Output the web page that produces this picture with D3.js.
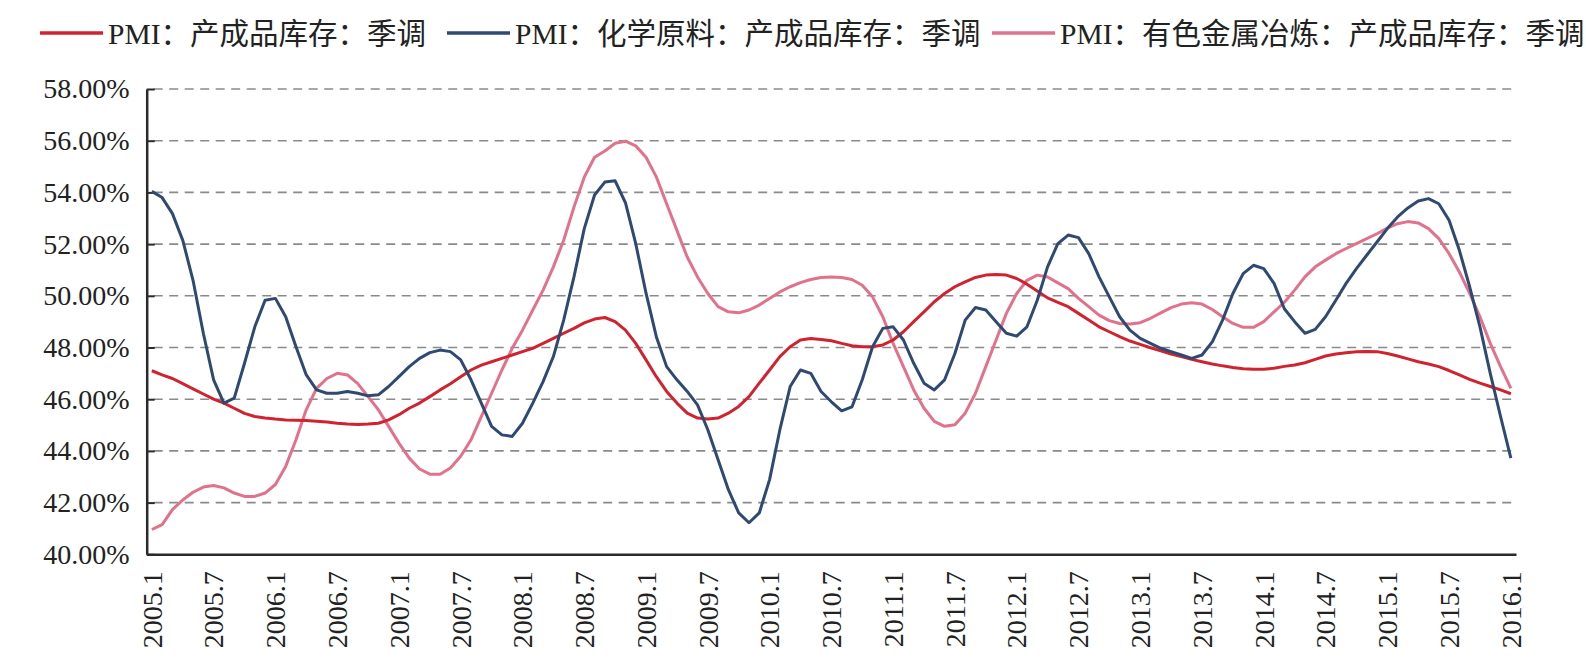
<!DOCTYPE html>
<html>
<head>
<meta charset="utf-8">
<script src="https://cdn.jsdelivr.net/npm/d3@7"></script>
<style>
  body { margin: 0; background: #fff; }
</style>
</head>
<body>
<div id="chart"></div>
<script>
// monthly categories 2005.1 .. 2016.1
const months = [];
for (let yr = 2005; yr <= 2016; yr++) {
    for (let m = 1; m <= 12; m++) {
        if (yr === 2016 && m > 1) break;
        months.push(yr + "." + m);
    }
}

const tickLabels = ["2005.1", "2005.7", "2006.1", "2006.7", "2007.1", "2007.7", "2008.1", "2008.7",
    "2009.1", "2009.7", "2010.1", "2010.7", "2011.1", "2011.7", "2012.1", "2012.7",
    "2013.1", "2013.7", "2014.1", "2014.7", "2015.1", "2015.7", "2016.1"];

const yTicks = [40, 42, 44, 46, 48, 50, 52, 54, 56, 58];

const seriesNames = ["PMI：产成品库存：季调", "PMI：化学原料：产成品库存：季调", "PMI：有色金属冶炼：产成品库存：季调"];

// PMI: 产成品库存 (seasonally adjusted), %
const pmiStock = [
    47.1, 46.94, 46.8, 46.6, 46.4, 46.2, 46.0, 45.85, 45.65, 45.45, 45.33, 45.27,
    45.23, 45.2, 45.19, 45.18, 45.15, 45.12, 45.07, 45.04, 45.02, 45.04, 45.07, 45.2,
    45.4, 45.65, 45.85, 46.1, 46.36, 46.6, 46.87, 47.13, 47.32, 47.45, 47.58, 47.71,
    47.84, 47.97, 48.16, 48.35, 48.55, 48.74, 48.95, 49.1, 49.16, 49.0, 48.67, 48.16,
    47.52, 46.87, 46.3, 45.85, 45.46, 45.27, 45.23, 45.27, 45.46, 45.72, 46.1, 46.62,
    47.13, 47.65, 48.03, 48.29, 48.35, 48.31, 48.26, 48.16, 48.07, 48.03, 48.03, 48.1,
    48.29, 48.61, 49.0, 49.38, 49.77, 50.09, 50.35, 50.54, 50.71, 50.8, 50.82, 50.8,
    50.67, 50.45, 50.19, 49.92, 49.75, 49.58, 49.32, 49.06, 48.8, 48.61, 48.42, 48.25,
    48.12, 47.99, 47.87, 47.75, 47.65, 47.54, 47.45, 47.36, 47.29, 47.23, 47.18, 47.16,
    47.16, 47.2, 47.27, 47.32, 47.41, 47.54, 47.67, 47.75, 47.8, 47.84, 47.85, 47.84,
    47.77, 47.67, 47.56, 47.45, 47.36, 47.26, 47.11, 46.94, 46.77, 46.62, 46.49, 46.36,
    46.21
];

// PMI: 化学原料: 产成品库存 (seasonally adjusted), %
const pmiChem = [
    54.04, 53.8, 53.18, 52.15, 50.6, 48.55, 46.75, 45.85, 46.04, 47.39, 48.8, 49.83,
    49.9, 49.19, 48.03, 46.94, 46.36, 46.23, 46.23, 46.3, 46.23, 46.13, 46.17, 46.49,
    46.87, 47.26, 47.58, 47.8, 47.9, 47.84, 47.52, 46.75, 45.85, 44.95, 44.62, 44.56,
    45.07, 45.85, 46.68, 47.65, 49.06, 50.73, 52.6, 53.9, 54.4, 54.45, 53.6, 52.02,
    50.1, 48.42, 47.26, 46.75, 46.3, 45.78, 44.82, 43.66, 42.5, 41.6, 41.22, 41.6,
    42.89, 44.82, 46.49, 47.13, 47.0, 46.3, 45.9, 45.55, 45.7, 46.75, 48.03, 48.74,
    48.8, 48.29, 47.39, 46.62, 46.36, 46.75, 47.77, 49.06, 49.55, 49.45, 49.0, 48.55,
    48.44, 48.8, 49.83, 51.12, 52.02, 52.35, 52.25, 51.63, 50.73, 49.96, 49.19, 48.67,
    48.35, 48.16, 47.97, 47.84, 47.71, 47.58, 47.71, 48.22, 49.06, 50.09, 50.86, 51.18,
    51.05, 50.48, 49.5, 49.0, 48.55, 48.7, 49.19, 49.83, 50.48, 51.05, 51.57, 52.08,
    52.6, 53.05, 53.4, 53.67, 53.76, 53.56, 52.92, 51.76, 50.35, 48.8, 47.0, 45.33,
    43.72
];

// PMI: 有色金属冶炼: 产成品库存 (seasonally adjusted), %
const pmiMetal = [
    40.96, 41.15, 41.73, 42.1, 42.4, 42.6, 42.66, 42.57, 42.37, 42.24, 42.24, 42.37,
    42.7, 43.4, 44.43, 45.6, 46.42, 46.8, 47.0, 46.94, 46.6, 46.1, 45.59, 44.95,
    44.3, 43.72, 43.3, 43.1, 43.1, 43.34, 43.79, 44.43, 45.33, 46.23, 47.13, 47.97,
    48.67, 49.45, 50.22, 51.12, 52.15, 53.43, 54.59, 55.36, 55.6, 55.9, 55.98, 55.8,
    55.36, 54.6, 53.56, 52.53, 51.5, 50.73, 50.09, 49.58, 49.38, 49.34, 49.45, 49.64,
    49.9, 50.15, 50.35, 50.51, 50.63, 50.71, 50.73, 50.71, 50.63, 50.41, 49.96, 49.19,
    48.16, 47.26, 46.36, 45.65, 45.14, 44.95, 45.01, 45.46, 46.23, 47.26, 48.29, 49.32,
    50.09, 50.6, 50.8, 50.73, 50.5, 50.28, 49.9, 49.58, 49.25, 49.04, 48.93, 48.91,
    48.96, 49.13, 49.34, 49.54, 49.68, 49.73, 49.68, 49.47, 49.19, 48.93, 48.78, 48.78,
    49.0, 49.38, 49.75, 50.22, 50.73, 51.12, 51.38, 51.63, 51.83, 52.02, 52.21, 52.4,
    52.62, 52.79, 52.87, 52.82, 52.6, 52.21, 51.63, 50.92, 50.09, 49.19, 48.16, 47.26,
    46.42
];

const seriesColors = ["#d0232f", "#2f4a72", "#e2718b"];

function chart(container) {
    const width = 1586;
    const height = 666;
    const plotLeft = 146.7;
    const plotRight = 1516;
    const plotTop = 89;
    const plotBottom = 554.3;

    const x = d3.scaleBand()
        .domain(months)
        .range([plotLeft, plotRight])
        .padding(0);
    const cx = d => x(d) + x.bandwidth() / 2;

    const y = d3.scaleLinear()
        .domain([40, 58])
        .range([plotBottom, plotTop]);

    const svg = d3.select(container).append("svg")
        .attr("width", width)
        .attr("height", height)
        .attr("viewBox", [0, 0, width, height])
        .style("font-family", "'Liberation Serif', 'Noto Sans CJK SC', serif");

    svg.append("rect").attr("width", width).attr("height", height).attr("fill", "#fff");

    // dashed gridlines
    svg.append("g")
        .selectAll("line")
        .data(yTicks.slice(1))
        .join("line")
            .attr("x1", plotLeft + 7)
            .attr("x2", plotRight)
            .attr("y1", d => y(d))
            .attr("y2", d => y(d))
            .attr("stroke", "#8a8a8a")
            .attr("stroke-width", 1.6)
            .attr("stroke-dasharray", "9,6.5");

    // y axis
    svg.append("g")
        .attr("transform", `translate(${plotLeft},0)`)
        .call(d3.axisLeft(y)
            .tickValues(yTicks)
            .tickFormat(d => d.toFixed(2) + "%")
            .tickSizeInner(-8)
            .tickSizeOuter(0)
            .tickPadding(17))
        .call(g => g.select(".domain").attr("stroke", "#2a2a2a").attr("stroke-width", 2.5))
        .call(g => g.selectAll(".tick line").attr("stroke", "#2a2a2a").attr("stroke-width", 2))
        .call(g => g.selectAll("text")
            .attr("font-family", "'Liberation Serif', serif")
            .attr("font-size", 28)
            .attr("fill", "#222"));

    // x axis
    svg.append("g")
        .attr("transform", `translate(0,${plotBottom})`)
        .call(d3.axisBottom(x)
            .tickValues(tickLabels)
            .tickSize(0))
        .call(g => g.select(".domain").attr("stroke", "#2a2a2a").attr("stroke-width", 2.5))
        .call(g => g.selectAll("text")
            .attr("font-family", "'Liberation Serif', serif")
            .attr("font-size", 28)
            .attr("fill", "#222")
            .attr("text-anchor", "end")
            .attr("x", -17)
            .attr("y", 0)
            .attr("dy", "0.35em")
            .attr("transform", "rotate(-90)"));

    // series lines
    const line = d3.line()
        .x((d, i) => cx(months[i]))
        .y(d => y(d));

    const allSeries = [pmiStock, pmiChem, pmiMetal];
    const order = [2, 0, 1]; // draw order
    svg.append("g")
        .attr("fill", "none")
        .attr("stroke-width", 3)
        .attr("stroke-linejoin", "round")
        .selectAll("path")
        .data(order)
        .join("path")
            .attr("stroke", k => seriesColors[k])
            .attr("d", k => line(allSeries[k]));

    // legend
    const legendX = [40, 447, 992];
    const legendY = 33;
    const lg = svg.append("g")
        .selectAll("g")
        .data(seriesNames)
        .join("g")
            .attr("transform", (d, i) => `translate(${legendX[i]},${legendY})`);

    lg.append("line")
        .attr("x1", 0)
        .attr("x2", 63)
        .attr("stroke", (d, i) => seriesColors[i])
        .attr("stroke-width", 3.5);

    lg.append("text")
        .attr("x", 68)
        .attr("dy", "0.36em")
        .attr("font-size", 29.5)
        .attr("fill", "#222")
        .text(d => d);
}

chart("#chart");
</script>
</body>
</html>
